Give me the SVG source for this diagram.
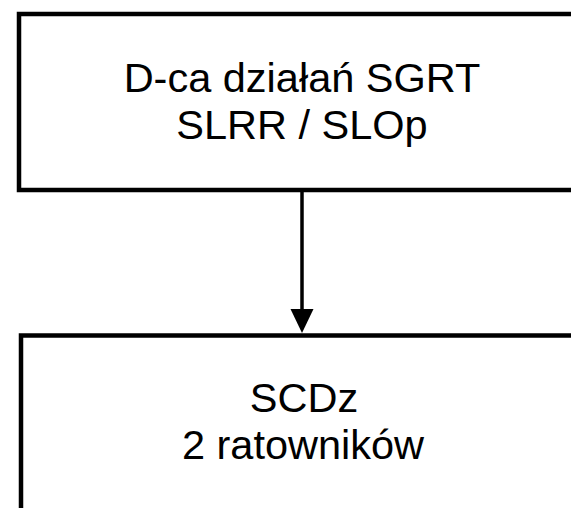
<svg xmlns="http://www.w3.org/2000/svg" width="571" height="508" viewBox="0 0 571 508">
<style>
.box{fill:#fff;stroke:#000;stroke-width:4.5}
.t{font-family:"Liberation Sans",Arial,sans-serif;font-size:41.5px;fill:#000;text-anchor:middle}
.ln{stroke:#000;stroke-width:3.5;fill:none}
</style>
<rect width="571" height="508" fill="#fff"/>
<g id="node-top">
<rect class="box" x="19" y="14" width="600" height="176"/>
<text class="t"><tspan x="302" y="92">D-ca działań SGRT</tspan><tspan x="302" y="138.5">SLRR / SLOp</tspan></text>
</g>
<g id="connectors">
<line class="ln" x1="302" y1="192" x2="302" y2="312"/>
<polygon points="290.5,309 313.5,309 302,333" fill="#000"/>
</g>
<g id="node-bottom">
<rect class="box" x="21" y="335.5" width="600" height="300"/>
<text class="t"><tspan x="304" y="412">SCDz</tspan><tspan x="303" y="458.5">2 ratowników</tspan></text>
</g>
</svg>
